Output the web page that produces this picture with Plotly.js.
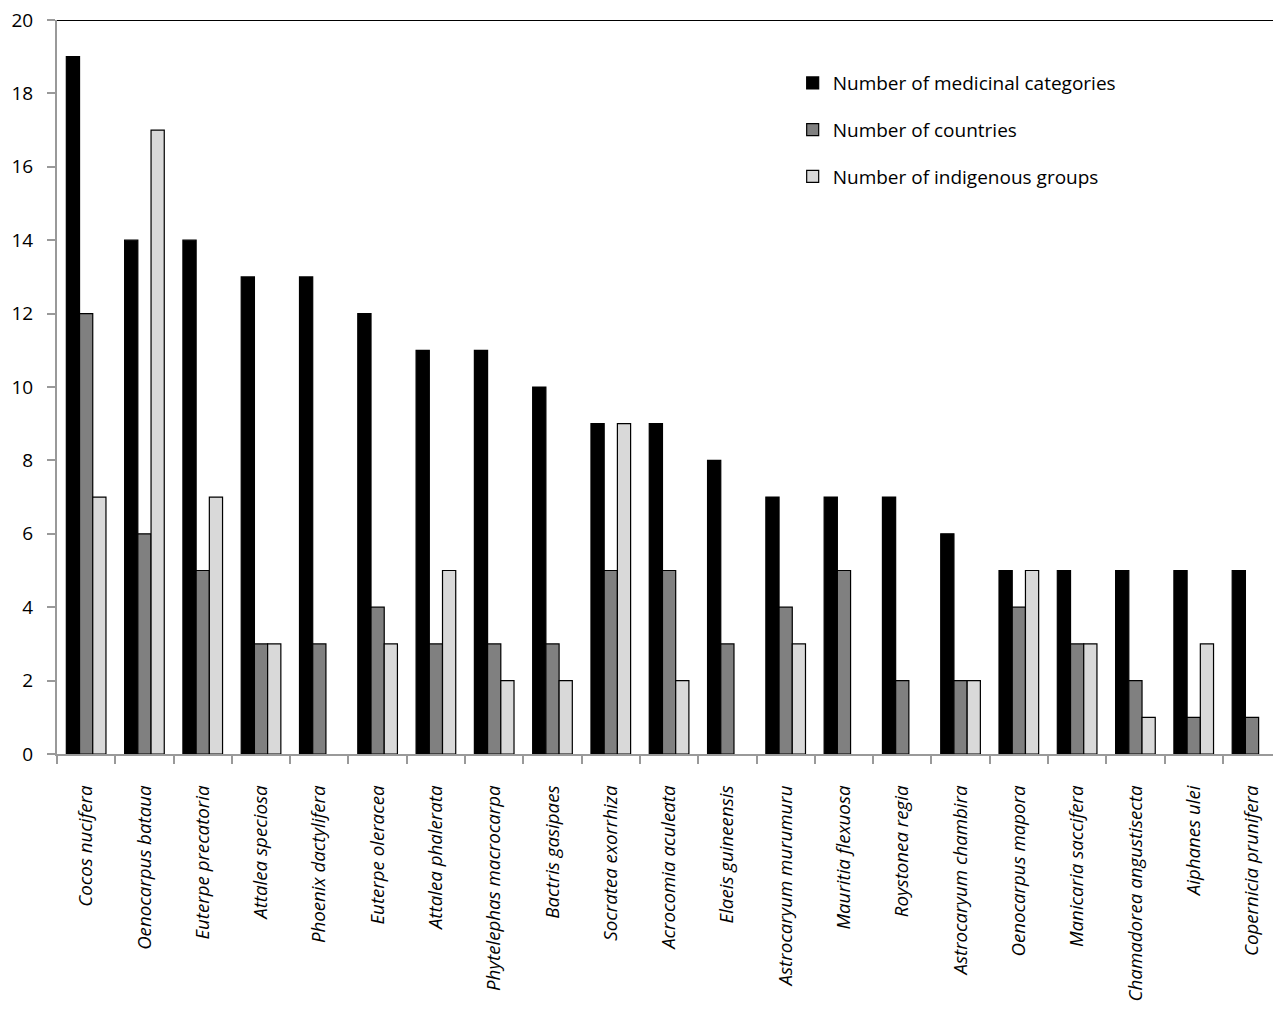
<!DOCTYPE html>
<html>
<head>
<meta charset="utf-8">
<script src="https://cdn.plot.ly/plotly-3.0.1.min.js"></script>
<style>html,body{margin:0;padding:0;background:#fff;}#chart{width:1273px;height:1011px;}</style>
</head>
<body>
<div id="chart"></div>
<script>
const species = ["Cocos nucifera","Oenocarpus bataua","Euterpe precatoria","Attalea speciosa","Phoenix dactylifera","Euterpe oleracea","Attalea phalerata","Phytelephas macrocarpa","Bactris gasipaes","Socratea exorrhiza","Acrocomia aculeata","Elaeis guineensis","Astrocaryum murumuru","Mauritia flexuosa","Roystonea regia","Astrocaryum chambira","Oenocarpus mapora","Manicaria saccifera","Chamadorea angustisecta","Aiphanes ulei","Copernicia prunifera"];
const medicinalCategories = [19,14,14,13,13,12,11,11,10,9,9,8,7,7,7,6,5,5,5,5,5];
const countries = [12,6,5,3,3,4,3,3,3,5,5,3,4,5,2,2,4,3,2,1,1];
const indigenousGroups = [7,17,7,3,0,3,5,2,2,9,2,0,3,0,0,2,5,3,1,3,0];
const seriesNames = ["Number of medicinal categories","Number of countries","Number of indigenous groups"];
const yTicks = [0,2,4,6,8,10,12,14,16,18,20];

const labels = species.map(s => "<i>" + s + "</i>");
const colors = ["#000000","#808080","#d9d9d9"];
const vals = [medicinalCategories, countries, indigenousGroups];

const traces = vals.map((v,i) => ({
  type: "bar",
  x: labels,
  y: v,
  name: seriesNames[i],
  legendgroup: "g"+i,
  marker: {color: colors[i], line: {color: "#000000", width: v.map(d => d === 0 ? 0 : 1.2)}},
  hoverinfo: "x+y+name"
}));

const layout = {
  width: 1273,
  height: 1011,
  margin: {l: 57, r: 0, t: 20, b: 257},
  paper_bgcolor: "#ffffff",
  plot_bgcolor: "#ffffff",
  font: {family: "Open Sans, sans-serif", color: "#000000"},
  barmode: "group",
  bargap: 0.32,
  bargroupgap: 0,
  showlegend: true,
  legend: {
    x: 0.605, xanchor: "left", y: 0.94, yanchor: "top",
    font: {size: 19, color: "#000000"},
    tracegroupgap: 19,
    bgcolor: "rgba(0,0,0,0)"
  },
  xaxis: {
    type: "category",
    range: [-0.5, 20.36],
    tickangle: -90,
    tickson: "boundaries",
    ticks: "outside",
    ticklen: 8,
    tickcolor: "#999999",
    tickwidth: 1.5,
    showline: true,
    linecolor: "#999999",
    linewidth: 2,
    showgrid: false,
    zeroline: false,
    tickfont: {size: 18.7, color: "#000000"},
    ticklabelstandoff: 22,
    fixedrange: true
  },
  yaxis: {
    range: [0, 20],
    tickvals: yTicks,
    ticktext: yTicks.map(String),
    ticks: "outside",
    ticklen: 8,
    tickcolor: "#999999",
    tickwidth: 1.5,
    showline: true,
    linecolor: "#999999",
    linewidth: 2,
    showgrid: false,
    zeroline: false,
    tickfont: {size: 19, color: "#000000"},
    ticklabelstandoff: 10,
    fixedrange: true
  },
  shapes: [{
    type: "line", xref: "paper", yref: "y", x0: 0, x1: 1, y0: 20, y1: 20,
    line: {color: "#000000", width: 2}
  }]
};

Plotly.newPlot("chart", traces, layout, {displayModeBar: false});
</script>
</body>
</html>
